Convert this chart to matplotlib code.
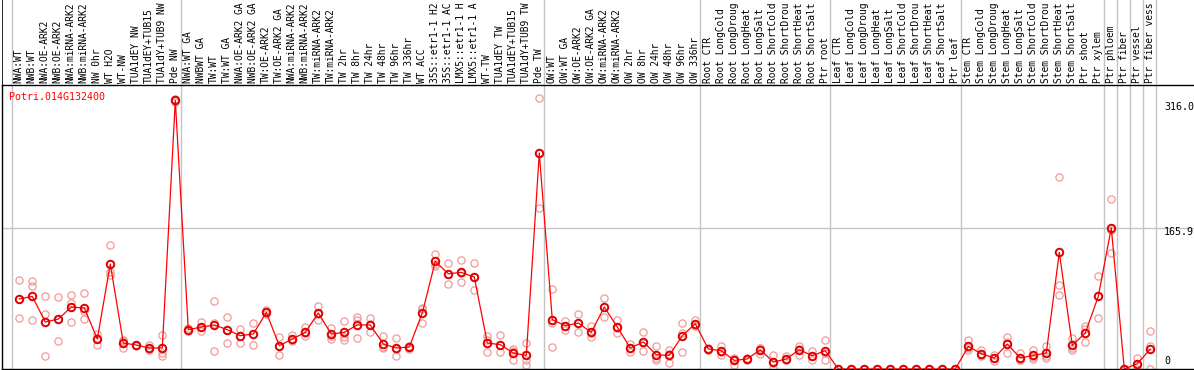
import matplotlib
matplotlib.use("Agg")
import matplotlib.pyplot as plt
from matplotlib.transforms import blended_transform_factory

# ---------------- data ----------------
gene_id = "Potri.014G132400"

labels = [
    # group 1
    "NWA:WT", "NWB:WT", "NWA:OE-ARK2", "NWB:OE-ARK2", "NWA:miRNA-ARK2", "NWB:miRNA-ARK2",
    "NW 0hr", "WT H2O", "WT-NW", "TUA1dEY NW", "TUA1dEY+TUB15", "TUA1dY+TUB9 NW", "Pde NW",
    # group 2
    "NWA:WT GA", "NWBWT GA", "TW:WT", "TW:WT GA", "NWA:OE-ARK2 GA", "NWB:OE-ARK2 GA",
    "TW:OE-ARK2", "TW:OE-ARK2 GA", "NWA:miRNA-ARK2", "NWB:miRNA-ARK2", "TW:miRNA-ARK2",
    "TW:miRNA-ARK2", "TW 2hr", "TW 8hr", "TW 24hr", "TW 48hr", "TW 96hr", "TW 336hr", "WT ACC",
    "35S::etr1-1 H2", "35S::etr1-1 AC", "LMX5::etr1-1 H", "LMX5::etr1-1 A", "WT-TW",
    "TUA1dEY TW", "TUA1dEY+TUB15", "TUA1dY+TUB9 TW", "Pde TW",
    # group 3
    "OW:WT", "OW:WT GA", "OW:OE-ARK2", "OW:OE-ARK2 GA", "OW:miRNA-ARK2", "OW:miRNA-ARK2",
    "OW 2hr", "OW 8hr", "OW 24hr", "OW 48hr", "OW 96hr", "OW 336hr",
    # group 4
    "Root CTR", "Root LongCold", "Root LongDroug", "Root LongHeat", "Root LongSalt",
    "Root ShortCold", "Root ShortDrou", "Root ShortHeat", "Root ShortSalt", "Ptr root",
    # group 5
    "Leaf CTR", "Leaf LongCold", "Leaf LongDroug", "Leaf LongHeat", "Leaf LongSalt",
    "Leaf ShortCold", "Leaf ShortDrou", "Leaf ShortHeat", "Leaf ShortSalt", "Ptr leaf",
    # group 6
    "Stem CTR", "Stem LongCold", "Stem LongDroug", "Stem LongHeat", "Stem LongSalt",
    "Stem ShortCold", "Stem ShortDrou", "Stem ShortHeat", "Stem ShortSalt", "Ptr shoot",
    "Ptr xylem",
    # singles
    "Ptr phloem", "Ptr fiber", "Ptr vessel", "Ptr fiber vess",
]

means = [
    82.4, 85.4, 55.3, 58.8, 72.9, 71.8, 35.3, 123.5, 30.6, 28.2, 24.7, 24.7, 316.0,
    46.2, 49.4, 51.8, 46.2, 39.2, 41.2, 66.6, 27.4, 35.3, 43.1, 65.9, 41.2, 43.1, 51.8,
    51.8, 29.4, 24.7, 25.9, 65.9, 126.6, 112.1, 113.6, 108.2, 30.6, 28.6, 18.8, 16.0, 254.1,
    58.0, 50.9, 54.1, 43.1, 72.9, 49.4, 24.7, 31.8, 16.8, 16.0, 39.2, 53.3,
    23.5, 21.5, 10.1, 11.8, 22.7, 8.2, 11.8, 22.7, 15.6, 21.5,
    0, 0, 0, 0, 0, 0, 0, 0, 0, 0,
    26.6, 18.0, 12.9, 29.4, 12.9, 16.0, 18.8, 137.2, 27.8, 42.4, 85.4,
    165.9, 0, 6.2, 23.5,
]

replicates = [
    [104.7, 82.5, 60.0], [103.1, 98.0, 58.0], [86.2, 65.1, 15.6], [84.7, 58.8, 33.3],
    [87.4, 77.6, 55.3], [89.4, 67.8, 58.8], [40.7, 36.5, 28.6], [146.2, 113.6, 110.9],
    [33.6, 33.3, 24.7], [28.6, 27.4, 28.6], [28.6, 23.5, 21.9], [40.4, 18.8, 15.6],
    [318.0, 316.0, 314.0],
    [48.2, 44.2, 46.2], [54.8, 49.4, 44.2], [80.4, 54.1, 20.7], [61.2, 46.2, 30.6],
    [47.4, 39.2, 30.6], [54.1, 41.2, 27.8], [69.8, 66.6, 65.1], [37.6, 27.4, 16.5],
    [40.4, 32.5, 34.5], [49.4, 38.4, 42.7], [74.5, 58.0, 65.1], [48.6, 35.3, 39.2],
    [56.8, 37.6, 34.5], [60.7, 58.0, 36.5], [60.0, 53.3, 43.5], [38.4, 24.7, 25.9],
    [36.5, 14.8, 23.9], [27.4, 23.5, 26.2], [71.8, 54.1, 70.6], [135.3, 121.5, 123.9],
    [124.7, 100.0, 112.1], [127.8, 102.7, 113.3], [124.7, 93.3, 108.2], [38.4, 20.0, 34.5],
    [39.5, 20.0, 28.6], [23.5, 21.5, 10.9], [30.6, 10.9, 5.1], [318.8, 189.4, 254.1],
    [94.1, 54.1, 25.9], [56.0, 46.2, 50.9], [65.1, 43.1, 54.5], [50.1, 37.6, 42.7],
    [83.5, 61.2, 73.3], [57.2, 42.4, 48.6], [29.8, 19.5, 25.1], [43.5, 21.5, 30.9],
    [26.6, 12.9, 10.9], [22.7, 7.1, 18.0], [54.1, 42.4, 20.0], [57.2, 52.1, 50.9],
    [24.7, 22.4, 23.9], [27.4, 16.8, 20.4], [12.9, 5.1, 12.1], [12.9, 10.9, 11.5],
    [24.7, 18.0, 25.1], [16.8, 1.2, 7.4], [14.8, 10.1, 10.9], [26.6, 16.0, 23.9],
    [20.7, 10.9, 15.6], [34.5, 10.9, 19.2],
    [0, 0, 0], [0, 0, 0], [0, 0, 0], [0, 0, 0], [0, 0, 0],
    [0, 0, 0], [0, 0, 0], [0, 0, 0], [0, 0, 0], [0, 0, 0],
    [33.6, 24.7, 22.7], [22.7, 16.8, 15.6], [16.8, 8.9, 13.3], [37.6, 18.8, 32.1],
    [18.8, 10.1, 10.9], [22.7, 11.8, 14.5], [27.4, 12.9, 15.6], [225.4, 99.2, 87.4],
    [36.5, 22.7, 25.1], [50.1, 47.4, 31.8], [108.9, 60.0, 86.2],
    [200.0, 163.9, 136.5], [0, 0, 0], [12.9, 0.4, 5.1], [45.1, 27.4, 0.0],
]

# index of the last column in each group (-1 = left edge line)
group_last_index = [-1, 12, 40, 52, 62, 72, 83, 84, 85, 86, 87]
ytick_values = [316.0, 165.9, 0]
ytick_texts = ["316.0", "165.9", "0"]

# ---------------- figure ----------------
W, H = 1194, 370
fig = plt.figure(figsize=(W / 100, H / 100), dpi=100)
mono = "DejaVu Sans Mono"
fs = 7.2
fs_lab = 6.9

ax_left_px, ax_right_px = 1.5, 1194.0
ax_top_px, ax_bot_px = 85.0, 369.0
col_px0, col_step = 19.3, 13.0
px_per_unit = 0.85

x0 = (ax_left_px - col_px0) / col_step
x1 = (ax_right_px - col_px0) / col_step

ax = fig.add_axes([ax_left_px / W, (H - ax_bot_px) / H,
                   (ax_right_px - ax_left_px) / W, (ax_bot_px - ax_top_px) / H])
ax.set_xlim(x0, x1)
ax.set_ylim(0, (ax_bot_px - ax_top_px) / px_per_unit)

axl = fig.add_axes([ax_left_px / W, (H - ax_top_px) / H,
                    (ax_right_px - ax_left_px) / W, ax_top_px / H])
axl.set_xlim(x0, x1)
axl.set_ylim(0, 1)
axl.axis("off")

ax.spines["right"].set_visible(False)
for s in ["left", "bottom", "top"]:
    ax.spines[s].set_color("black")
    ax.spines[s].set_linewidth(1.0)
ax.set_xticks([])
ax.set_yticks([])

grid_col = "#c4c4c4"
for k in group_last_index:
    ax.axvline(k + 0.4, color=grid_col, lw=1.0, zorder=0)
    axl.axvline(k + 0.4, color=grid_col, lw=1.0, zorder=0)
axl.axvline(x0 + 0.02, color="black", lw=1.2)
ax.axhline(ytick_values[1], color=grid_col, lw=1.0, zorder=0)

xs = list(range(len(labels)))

# replicates
rep_x, rep_y = [], []
for i, reps in enumerate(replicates):
    for v in reps:
        rep_x.append(xs[i])
        rep_y.append(v)
ax.plot(rep_x, rep_y, linestyle="none", marker="o", markersize=5.2,
        markerfacecolor="none", markeredgecolor="#f09a9a", markeredgewidth=0.9, zorder=2)

# means
ax.plot(xs, means, color="#ff0000", lw=0.9, marker="o", markersize=5.4,
        markerfacecolor="none", markeredgecolor="#e00000", markeredgewidth=1.4, zorder=3)

# y labels at right
tr = blended_transform_factory(fig.transFigure, ax.transData)
offsets = [-4.8, -3.2, 5.5]
for val, txt, off in zip(ytick_values, ytick_texts, offsets):
    ax.annotate(txt, xy=(1164 / W, val), xycoords=tr, xytext=(0, off),
                textcoords="offset points", ha="left", va="center",
                fontsize=fs, family=mono, color="black", annotation_clip=False)

# title
fig.text(9.3 / W, 1 - 96.7 / H, gene_id, color="#ff0000", fontsize=fs,
         family=mono, ha="left", va="center")

# rotated labels
lab_bottom = (ax_top_px - 83.0) / ax_top_px
for i, lab in enumerate(labels):
    axl.text(xs[i] - 0.05, lab_bottom, lab, rotation=90, ha="center", va="bottom",
             fontsize=fs_lab, family=mono, color="black", clip_on=False)

fig.savefig("out.png", dpi=100)
